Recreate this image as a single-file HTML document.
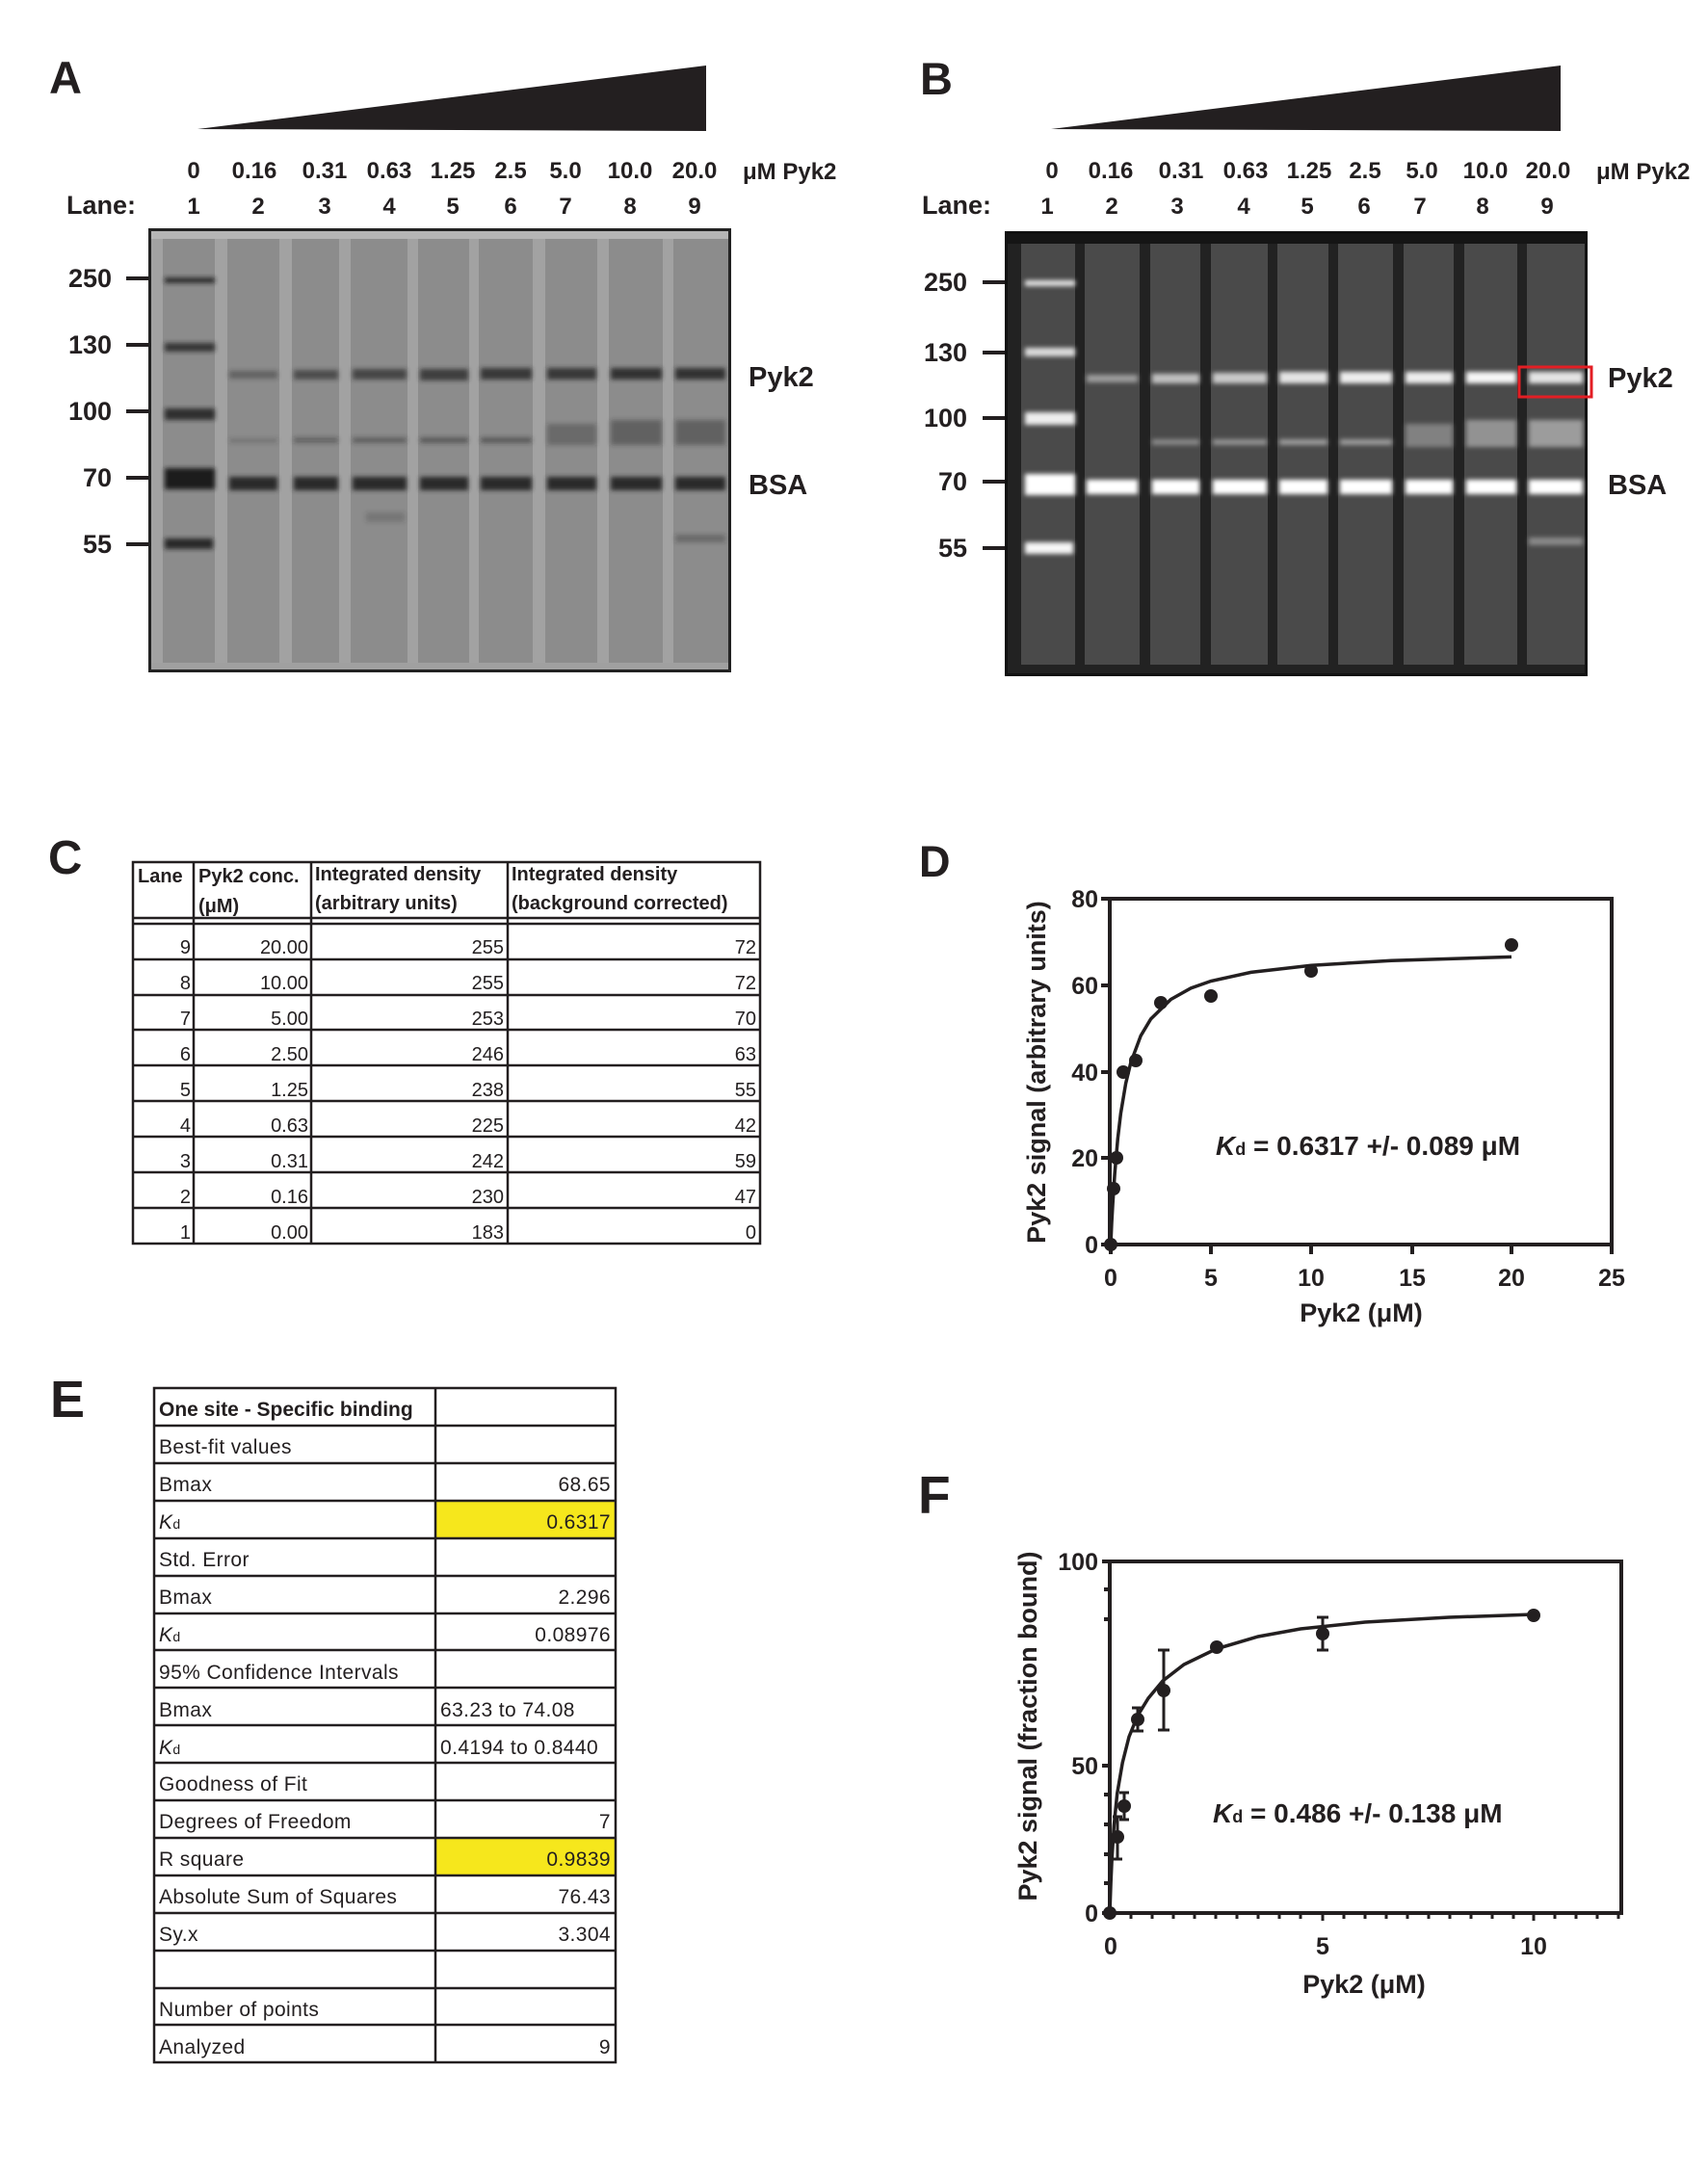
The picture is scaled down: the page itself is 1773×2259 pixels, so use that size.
<!DOCTYPE html>
<html><head><meta charset="utf-8"><style>
html,body{margin:0;padding:0;background:#fff;}
svg{display:block;}
text{font-family:"Liberation Sans",Arial,sans-serif;}
</style></head><body>
<svg width="1773" height="2259" viewBox="0 0 1773 2259" xmlns="http://www.w3.org/2000/svg">
<defs>
<filter id="bl" x="-10%" y="-100%" width="120%" height="300%"><feGaussianBlur stdDeviation="2.5"/></filter>
</defs>

<!-- ================= PANEL A ================= -->
<text x="51" y="97" font-size="47" font-weight="bold" fill="#231f20">A</text>
<polygon points="205,134 733,68 733,136" fill="#231f20"/>
<g font-size="24" font-weight="bold" fill="#231f20" text-anchor="middle">
<text x="201" y="185">0</text><text x="264" y="185">0.16</text><text x="337" y="185">0.31</text><text x="404" y="185">0.63</text><text x="470" y="185">1.25</text><text x="530" y="185">2.5</text><text x="587" y="185">5.0</text><text x="654" y="185">10.0</text><text x="721" y="185">20.0</text>
<text x="201" y="222">1</text><text x="268" y="222">2</text><text x="337" y="222">3</text><text x="404" y="222">4</text><text x="470" y="222">5</text><text x="530" y="222">6</text><text x="587" y="222">7</text><text x="654" y="222">8</text><text x="721" y="222">9</text>
</g>
<text x="771" y="186" font-size="24" font-weight="bold" fill="#231f20">μM Pyk2</text>
<text x="69" y="222" font-size="27" font-weight="bold" fill="#231f20">Lane:</text>

<g>
<rect x="154" y="237" width="605" height="461" fill="#222"/>
<rect x="157" y="240" width="599" height="455" fill="#8c8c8c"/>
<g fill="#a2a2a2">
<rect x="223" y="245" width="13" height="445"/><rect x="290" y="245" width="13" height="445"/><rect x="352" y="245" width="12" height="445"/><rect x="423" y="245" width="11" height="445"/><rect x="487" y="245" width="10" height="445"/><rect x="553" y="245" width="13" height="445"/><rect x="620" y="245" width="12" height="445"/><rect x="688" y="245" width="11" height="445"/>
<rect x="157" y="240" width="12" height="455"/>
</g>
<rect x="157" y="240" width="599" height="8" fill="#b5b5b5"/>
<rect x="157" y="688" width="599" height="7" fill="#a0a0a0"/>
<g fill="#1e1e1e" filter="url(#bl)">
<rect x="171" y="288" width="52" height="6" opacity="0.85"/>
<rect x="171" y="356" width="52" height="9" opacity="0.8"/>
<rect x="171" y="424" width="52" height="12" opacity="0.85"/>
<rect x="171" y="486" width="52" height="22"/>
<rect x="171" y="559" width="50" height="11" opacity="0.9"/>
</g>
<g fill="#2a2a2a" filter="url(#bl)">
<rect x="238" y="385" width="50" height="8" opacity="0.45"/>
<rect x="305" y="384" width="46" height="10" opacity="0.65"/>
<rect x="366" y="383" width="56" height="11" opacity="0.7"/>
<rect x="436" y="383" width="50" height="12" opacity="0.8"/>
<rect x="499" y="382" width="53" height="12" opacity="0.85"/>
<rect x="568" y="382" width="51" height="12" opacity="0.85"/>
<rect x="634" y="382" width="53" height="12" opacity="0.9"/>
<rect x="701" y="382" width="52" height="12" opacity="0.9"/>
<rect x="238" y="455" width="50" height="5" opacity="0.25"/>
<rect x="305" y="454" width="46" height="6" opacity="0.4"/>
<rect x="366" y="454" width="56" height="6" opacity="0.45"/>
<rect x="436" y="454" width="50" height="6" opacity="0.5"/>
<rect x="499" y="454" width="53" height="6" opacity="0.5"/>
<rect x="568" y="440" width="51" height="22" opacity="0.35"/>
<rect x="634" y="436" width="53" height="26" opacity="0.45"/>
<rect x="701" y="436" width="52" height="26" opacity="0.45"/>
<rect x="238" y="495" width="50" height="14"/>
<rect x="305" y="495" width="46" height="14"/>
<rect x="366" y="495" width="56" height="14"/>
<rect x="436" y="495" width="50" height="14"/>
<rect x="499" y="495" width="53" height="14"/>
<rect x="568" y="495" width="51" height="14"/>
<rect x="634" y="495" width="53" height="14"/>
<rect x="701" y="495" width="52" height="14"/>
<rect x="701" y="555" width="52" height="8" opacity="0.35"/>
<rect x="380" y="532" width="40" height="10" opacity="0.25"/>
</g>
</g>
<g stroke="#231f20" stroke-width="4">
<line x1="131" y1="289" x2="154" y2="289"/><line x1="131" y1="358" x2="154" y2="358"/><line x1="131" y1="427" x2="154" y2="427"/><line x1="131" y1="496" x2="154" y2="496"/><line x1="131" y1="565" x2="154" y2="565"/>
</g>
<g font-size="27" font-weight="bold" fill="#231f20" text-anchor="end">
<text x="116" y="298">250</text><text x="116" y="367">130</text><text x="116" y="436">100</text><text x="116" y="505">70</text><text x="116" y="574">55</text>
</g>
<text x="777" y="401" font-size="29" font-weight="bold" fill="#231f20">Pyk2</text>
<text x="777" y="513" font-size="29" font-weight="bold" fill="#231f20">BSA</text>

<!-- ================= PANEL B ================= -->
<text x="955" y="98" font-size="47" font-weight="bold" fill="#231f20">B</text>
<polygon points="1091,134 1620,68 1620,136" fill="#231f20"/>
<g font-size="24" font-weight="bold" fill="#231f20" text-anchor="middle">
<text x="1092" y="185">0</text><text x="1153" y="185">0.16</text><text x="1226" y="185">0.31</text><text x="1293" y="185">0.63</text><text x="1359" y="185">1.25</text><text x="1417" y="185">2.5</text><text x="1476" y="185">5.0</text><text x="1542" y="185">10.0</text><text x="1607" y="185">20.0</text>
<text x="1087" y="222">1</text><text x="1154" y="222">2</text><text x="1222" y="222">3</text><text x="1291" y="222">4</text><text x="1357" y="222">5</text><text x="1416" y="222">6</text><text x="1474" y="222">7</text><text x="1539" y="222">8</text><text x="1606" y="222">9</text>
</g>
<text x="1657" y="186" font-size="24" font-weight="bold" fill="#231f20">μM Pyk2</text>
<text x="957" y="222" font-size="27" font-weight="bold" fill="#231f20">Lane:</text>

<g>
<rect x="1043" y="240" width="605" height="462" fill="#111"/>
<rect x="1046" y="243" width="599" height="456" fill="#4a4a4a"/>
<g fill="#222">
<rect x="1046" y="243" width="14" height="456"/>
<rect x="1116" y="250" width="10" height="445"/><rect x="1183" y="250" width="11" height="445"/><rect x="1246" y="250" width="11" height="445"/><rect x="1316" y="250" width="10" height="445"/><rect x="1379" y="250" width="10" height="445"/><rect x="1446" y="250" width="11" height="445"/><rect x="1509" y="250" width="11" height="445"/><rect x="1575" y="250" width="10" height="445"/>
</g>
<rect x="1046" y="243" width="599" height="10" fill="#151515"/>
<rect x="1046" y="690" width="599" height="9" fill="#222"/>
<g fill="#fff" filter="url(#bl)">
<rect x="1064" y="291" width="52" height="6" opacity="0.85"/>
<rect x="1064" y="361" width="52" height="9" opacity="0.8"/>
<rect x="1064" y="428" width="52" height="13" opacity="0.9"/>
<rect x="1064" y="492" width="52" height="22"/>
<rect x="1064" y="563" width="50" height="12" opacity="0.95"/>
<rect x="1128" y="389" width="53" height="8" opacity="0.45"/>
<rect x="1196" y="388" width="49" height="10" opacity="0.65"/>
<rect x="1259" y="387" width="56" height="11" opacity="0.7"/>
<rect x="1328" y="386" width="50" height="12" opacity="0.85"/>
<rect x="1391" y="386" width="54" height="12" opacity="0.9"/>
<rect x="1459" y="386" width="49" height="12" opacity="0.9"/>
<rect x="1522" y="386" width="52" height="12" opacity="0.95"/>
<rect x="1587" y="386" width="56" height="12" opacity="0.85"/>
<rect x="1196" y="456" width="49" height="6" opacity="0.35"/>
<rect x="1259" y="456" width="56" height="6" opacity="0.4"/>
<rect x="1328" y="456" width="50" height="6" opacity="0.45"/>
<rect x="1391" y="456" width="54" height="6" opacity="0.45"/>
<rect x="1459" y="440" width="49" height="24" opacity="0.3"/>
<rect x="1522" y="436" width="52" height="28" opacity="0.4"/>
<rect x="1587" y="436" width="56" height="28" opacity="0.45"/>
<rect x="1128" y="498" width="53" height="15"/>
<rect x="1196" y="498" width="49" height="15"/>
<rect x="1259" y="498" width="56" height="15"/>
<rect x="1328" y="498" width="50" height="15"/>
<rect x="1391" y="498" width="54" height="15"/>
<rect x="1459" y="498" width="49" height="15"/>
<rect x="1522" y="498" width="52" height="15"/>
<rect x="1587" y="498" width="56" height="15"/>
<rect x="1587" y="558" width="56" height="8" opacity="0.35"/>
</g>
<rect x="1577" y="381" width="75" height="31" fill="none" stroke="#e31e24" stroke-width="3"/>
</g>
<g stroke="#231f20" stroke-width="4">
<line x1="1020" y1="293" x2="1043" y2="293"/><line x1="1020" y1="366" x2="1043" y2="366"/><line x1="1020" y1="434" x2="1043" y2="434"/><line x1="1020" y1="500" x2="1043" y2="500"/><line x1="1020" y1="569" x2="1043" y2="569"/>
</g>
<g font-size="27" font-weight="bold" fill="#231f20" text-anchor="end">
<text x="1004" y="302">250</text><text x="1004" y="375">130</text><text x="1004" y="443">100</text><text x="1004" y="509">70</text><text x="1004" y="578">55</text>
</g>
<text x="1669" y="402" font-size="29" font-weight="bold" fill="#231f20">Pyk2</text>
<text x="1669" y="513" font-size="29" font-weight="bold" fill="#231f20">BSA</text>

<!-- ================= PANEL C ================= -->
<text x="50" y="907" font-size="49" font-weight="bold" fill="#231f20">C</text>
<g stroke="#231f20" stroke-width="2.5" fill="none">
<rect x="138" y="895" width="651" height="396"/>
<line x1="138" y1="953" x2="789" y2="953"/><line x1="138" y1="959" x2="789" y2="959"/>
<line x1="201" y1="895" x2="201" y2="1291"/><line x1="323" y1="895" x2="323" y2="1291"/><line x1="527" y1="895" x2="527" y2="1291"/>
<line x1="138" y1="996" x2="789" y2="996"/><line x1="138" y1="1033" x2="789" y2="1033"/><line x1="138" y1="1069" x2="789" y2="1069"/><line x1="138" y1="1106" x2="789" y2="1106"/><line x1="138" y1="1143" x2="789" y2="1143"/><line x1="138" y1="1180" x2="789" y2="1180"/><line x1="138" y1="1217" x2="789" y2="1217"/><line x1="138" y1="1254" x2="789" y2="1254"/>
</g>
<g font-size="20" font-weight="bold" fill="#231f20">
<text x="143" y="916">Lane</text>
<text x="206" y="916">Pyk2 conc.</text><text x="206" y="947">(μM)</text>
<text x="327" y="914">Integrated density</text><text x="327" y="944">(arbitrary units)</text>
<text x="531" y="914">Integrated density</text><text x="531" y="944">(background corrected)</text>
</g>
<g font-size="20" fill="#231f20" text-anchor="end">
<text x="198" y="990">9</text><text x="320" y="990">20.00</text><text x="523" y="990">255</text><text x="785" y="990">72</text>
<text x="198" y="1027">8</text><text x="320" y="1027">10.00</text><text x="523" y="1027">255</text><text x="785" y="1027">72</text>
<text x="198" y="1064">7</text><text x="320" y="1064">5.00</text><text x="523" y="1064">253</text><text x="785" y="1064">70</text>
<text x="198" y="1101">6</text><text x="320" y="1101">2.50</text><text x="523" y="1101">246</text><text x="785" y="1101">63</text>
<text x="198" y="1138">5</text><text x="320" y="1138">1.25</text><text x="523" y="1138">238</text><text x="785" y="1138">55</text>
<text x="198" y="1175">4</text><text x="320" y="1175">0.63</text><text x="523" y="1175">225</text><text x="785" y="1175">42</text>
<text x="198" y="1212">3</text><text x="320" y="1212">0.31</text><text x="523" y="1212">242</text><text x="785" y="1212">59</text>
<text x="198" y="1249">2</text><text x="320" y="1249">0.16</text><text x="523" y="1249">230</text><text x="785" y="1249">47</text>
<text x="198" y="1286">1</text><text x="320" y="1286">0.00</text><text x="523" y="1286">183</text><text x="785" y="1286">0</text>
</g>

<!-- ================= PANEL D ================= -->
<text x="954" y="910" font-size="45" font-weight="bold" fill="#231f20">D</text>
<g stroke="#231f20" stroke-width="4" fill="none">
<polyline points="1152,933 1673,933 1673,1292 1152,1292 1152,933"/>
<line x1="1143" y1="933" x2="1152" y2="933"/><line x1="1143" y1="1023" x2="1152" y2="1023"/><line x1="1143" y1="1113" x2="1152" y2="1113"/><line x1="1143" y1="1202" x2="1152" y2="1202"/><line x1="1143" y1="1292" x2="1152" y2="1292"/>
<line x1="1153" y1="1292" x2="1153" y2="1302"/><line x1="1257" y1="1292" x2="1257" y2="1302"/><line x1="1361" y1="1292" x2="1361" y2="1302"/><line x1="1466" y1="1292" x2="1466" y2="1302"/><line x1="1569" y1="1292" x2="1569" y2="1302"/><line x1="1673" y1="1292" x2="1673" y2="1302"/>
</g>
<g font-size="25" font-weight="bold" fill="#231f20" text-anchor="end">
<text x="1140" y="942">80</text><text x="1140" y="1032">60</text><text x="1140" y="1122">40</text><text x="1140" y="1211">20</text><text x="1140" y="1301">0</text>
</g>
<g font-size="25" font-weight="bold" fill="#231f20" text-anchor="middle">
<text x="1153" y="1335">0</text><text x="1257" y="1335">5</text><text x="1361" y="1335">10</text><text x="1466" y="1335">15</text><text x="1569" y="1335">20</text><text x="1673" y="1335">25</text>
</g>
<text x="1413" y="1372" font-size="27" font-weight="bold" fill="#231f20" text-anchor="middle">Pyk2 (μM)</text>
<text transform="translate(1085,1113) rotate(-90)" font-size="27" font-weight="bold" fill="#231f20" text-anchor="middle">Pyk2 signal (arbitrary units)</text>
<text x="1262" y="1199" font-size="28" font-weight="bold" fill="#231f20"><tspan font-style="italic">K</tspan><tspan font-size="18">d</tspan> = 0.6317 +/- 0.089 μM</text>
<path fill="none" stroke="#231f20" stroke-width="3.5" d="M1153,1292 L1154,1269.4 L1155.1,1249.9 L1157.2,1217.9 L1160.3,1182.1 L1163.4,1155.8 L1168.6,1124.7 L1173.8,1103.2 L1184.2,1075.2 L1194.6,1057.9 L1215.4,1037.5 L1236.2,1025.9 L1257,1018.5 L1298.6,1009.4 L1361,1002.2 L1444.2,997.2 L1569,993.4"/>
<g fill="#231f20">
<circle cx="1153" cy="1292" r="7"/><circle cx="1156" cy="1234" r="7"/><circle cx="1159" cy="1202" r="7"/><circle cx="1166" cy="1113" r="7"/><circle cx="1179" cy="1101" r="7"/><circle cx="1205" cy="1041" r="7"/><circle cx="1257" cy="1034" r="7"/><circle cx="1361" cy="1008" r="7"/><circle cx="1569" cy="981" r="7"/>
</g>

<!-- ================= PANEL E ================= -->
<text x="52" y="1471" font-size="54" font-weight="bold" fill="#231f20">E</text>
<rect x="452" y="1558" width="187" height="39" fill="#f6e71c"/>
<rect x="452" y="1908" width="187" height="39" fill="#f6e71c"/>
<g stroke="#231f20" stroke-width="2.5" fill="none">
<rect x="160" y="1441" width="479" height="700"/>
<line x1="452" y1="1441" x2="452" y2="2141"/>
<line x1="160" y1="1480" x2="639" y2="1480"/><line x1="160" y1="1519" x2="639" y2="1519"/><line x1="160" y1="1558" x2="639" y2="1558"/><line x1="160" y1="1597" x2="639" y2="1597"/><line x1="160" y1="1636" x2="639" y2="1636"/><line x1="160" y1="1675" x2="639" y2="1675"/><line x1="160" y1="1713" x2="639" y2="1713"/><line x1="160" y1="1752" x2="639" y2="1752"/><line x1="160" y1="1791" x2="639" y2="1791"/><line x1="160" y1="1830" x2="639" y2="1830"/><line x1="160" y1="1869" x2="639" y2="1869"/><line x1="160" y1="1908" x2="639" y2="1908"/><line x1="160" y1="1947" x2="639" y2="1947"/><line x1="160" y1="1986" x2="639" y2="1986"/><line x1="160" y1="2025" x2="639" y2="2025"/><line x1="160" y1="2064" x2="639" y2="2064"/><line x1="160" y1="2102" x2="639" y2="2102"/>
</g>
<g font-size="21" fill="#231f20" letter-spacing="0.4">
<text x="165" y="1470" font-weight="bold" letter-spacing="0">One site -  Specific binding</text>
<text x="165" y="1509">Best-fit values</text>
<text x="165" y="1548">Bmax</text>
<text x="165" y="1587"><tspan font-style="italic">K</tspan><tspan font-size="14">d</tspan></text>
<text x="165" y="1626">Std. Error</text>
<text x="165" y="1665">Bmax</text>
<text x="165" y="1704"><tspan font-style="italic">K</tspan><tspan font-size="14">d</tspan></text>
<text x="165" y="1743">95% Confidence Intervals</text>
<text x="165" y="1782">Bmax</text>
<text x="165" y="1821"><tspan font-style="italic">K</tspan><tspan font-size="14">d</tspan></text>
<text x="165" y="1859">Goodness of Fit</text>
<text x="165" y="1898">Degrees of Freedom</text>
<text x="165" y="1937">R square</text>
<text x="165" y="1976">Absolute Sum of Squares</text>
<text x="165" y="2015">Sy.x</text>
<text x="165" y="2093">Number of points</text>
<text x="165" y="2132">Analyzed</text>
<text x="457" y="1782">63.23 to 74.08</text>
<text x="457" y="1821">0.4194 to 0.8440</text>
</g>
<g font-size="21" fill="#231f20" text-anchor="end" letter-spacing="0.4">
<text x="634" y="1548">68.65</text><text x="634" y="1587">0.6317</text><text x="634" y="1665">2.296</text><text x="634" y="1704">0.08976</text><text x="634" y="1898">7</text><text x="634" y="1937">0.9839</text><text x="634" y="1976">76.43</text><text x="634" y="2015">3.304</text><text x="634" y="2132">9</text>
</g>

<!-- ================= PANEL F ================= -->
<text x="953" y="1571" font-size="55" font-weight="bold" fill="#231f20">F</text>
<g stroke="#231f20" stroke-width="4" fill="none">
<polyline points="1152,1621 1683,1621 1683,1986 1152,1986 1152,1621"/>
<line x1="1144" y1="1621" x2="1152" y2="1621"/><line x1="1146" y1="1650" x2="1152" y2="1650"/><line x1="1146" y1="1681" x2="1152" y2="1681"/><line x1="1144" y1="1833" x2="1152" y2="1833"/><line x1="1146" y1="1863" x2="1152" y2="1863"/><line x1="1146" y1="1894" x2="1152" y2="1894"/><line x1="1146" y1="1925" x2="1152" y2="1925"/><line x1="1146" y1="1955" x2="1152" y2="1955"/><line x1="1144" y1="1986" x2="1152" y2="1986"/>
</g>
<g stroke="#231f20" stroke-width="3">
<line x1="1174" y1="1986" x2="1174" y2="1992"/><line x1="1196" y1="1986" x2="1196" y2="1992"/><line x1="1218" y1="1986" x2="1218" y2="1992"/><line x1="1240" y1="1986" x2="1240" y2="1992"/><line x1="1262" y1="1986" x2="1262" y2="1992"/><line x1="1284" y1="1986" x2="1284" y2="1992"/><line x1="1306" y1="1986" x2="1306" y2="1992"/><line x1="1328" y1="1986" x2="1328" y2="1992"/><line x1="1350" y1="1986" x2="1350" y2="1992"/><line x1="1373" y1="1986" x2="1373" y2="1994"/><line x1="1395" y1="1986" x2="1395" y2="1992"/><line x1="1417" y1="1986" x2="1417" y2="1992"/><line x1="1439" y1="1986" x2="1439" y2="1992"/><line x1="1461" y1="1986" x2="1461" y2="1992"/><line x1="1483" y1="1986" x2="1483" y2="1992"/><line x1="1505" y1="1986" x2="1505" y2="1992"/><line x1="1527" y1="1986" x2="1527" y2="1992"/><line x1="1549" y1="1986" x2="1549" y2="1992"/><line x1="1571" y1="1986" x2="1571" y2="1992"/><line x1="1592" y1="1986" x2="1592" y2="1994"/><line x1="1614" y1="1986" x2="1614" y2="1992"/><line x1="1636" y1="1986" x2="1636" y2="1992"/><line x1="1658" y1="1986" x2="1658" y2="1992"/><line x1="1680" y1="1986" x2="1680" y2="1992"/>
</g>
<g font-size="25" font-weight="bold" fill="#231f20" text-anchor="end">
<text x="1140" y="1630">100</text><text x="1140" y="1842">50</text><text x="1140" y="1995">0</text>
</g>
<g font-size="25" font-weight="bold" fill="#231f20" text-anchor="middle">
<text x="1153" y="2029">0</text><text x="1373" y="2029">5</text><text x="1592" y="2029">10</text>
</g>
<text x="1416" y="2069" font-size="27" font-weight="bold" fill="#231f20" text-anchor="middle">Pyk2 (μM)</text>
<text transform="translate(1076,1792) rotate(-90)" font-size="27" font-weight="bold" fill="#231f20" text-anchor="middle">Pyk2 signal (fraction bound)</text>
<text x="1259" y="1892" font-size="28" font-weight="bold" fill="#231f20"><tspan font-style="italic">K</tspan><tspan font-size="18">d</tspan> = 0.486 +/- 0.138 μM</text>
<path fill="none" stroke="#231f20" stroke-width="3.5" d="M1152,1986 L1153.1,1955 L1154.2,1930 L1156.4,1895 L1159.7,1862 L1165.2,1830 L1172,1803 L1181,1781 L1192,1763 L1207,1745 L1229,1728 L1262,1712 L1306,1699 L1350,1691 L1417,1684 L1504,1679 L1592,1676"/>
<g stroke="#231f20" stroke-width="3" fill="none">
<line x1="1160" y1="1886" x2="1160" y2="1930"/><line x1="1155" y1="1886" x2="1165" y2="1886"/><line x1="1155" y1="1930" x2="1165" y2="1930"/>
<line x1="1167" y1="1861" x2="1167" y2="1889"/><line x1="1162" y1="1861" x2="1172" y2="1861"/><line x1="1162" y1="1889" x2="1172" y2="1889"/>
<line x1="1181" y1="1773" x2="1181" y2="1797"/><line x1="1175" y1="1773" x2="1187" y2="1773"/><line x1="1175" y1="1797" x2="1187" y2="1797"/>
<line x1="1208" y1="1713" x2="1208" y2="1796"/><line x1="1202" y1="1713" x2="1214" y2="1713"/><line x1="1202" y1="1796" x2="1214" y2="1796"/>
<line x1="1373" y1="1679" x2="1373" y2="1713"/><line x1="1367" y1="1679" x2="1379" y2="1679"/><line x1="1367" y1="1713" x2="1379" y2="1713"/>
</g>
<g fill="#231f20">
<circle cx="1152" cy="1986" r="7"/><circle cx="1160" cy="1907" r="7"/><circle cx="1167" cy="1875" r="7"/><circle cx="1181" cy="1785" r="7"/><circle cx="1208" cy="1755" r="7"/><circle cx="1263" cy="1710" r="7"/><circle cx="1373" cy="1696" r="7"/><circle cx="1592" cy="1677" r="7"/>
</g>
</svg>
</body></html>
